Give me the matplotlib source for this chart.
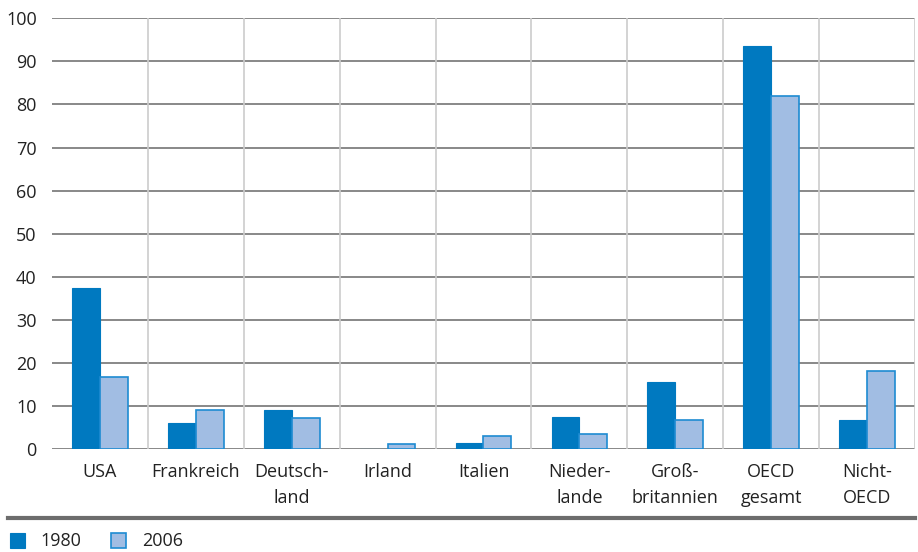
import numpy as np
import matplotlib.pyplot as plt
from matplotlib.patches import Rectangle
from matplotlib.lines import Line2D

plt.rcParams['font.family'] = ['Open Sans', 'DejaVu Sans']

categories = ['USA', 'Frankreich', 'Deutsch-\nland', 'Irland', 'Italien',
              'Nieder-\nlande', 'Groß-\nbritannien', 'OECD\ngesamt', 'Nicht-\nOECD']
v1980 = [37.4, 6.2, 9.2, 0.0, 1.5, 7.6, 15.5, 93.6, 6.7]
v2006 = [16.8, 9.2, 7.2, 1.2, 3.2, 3.6, 6.7, 81.9, 18.2]
series_labels = ['1980', '2006']
yticks = [0, 10, 20, 30, 40, 50, 60, 70, 80, 90, 100]

c1980 = '#0079C0'
c2006 = '#A1BDE3'
edge2006 = '#1E8BD2'

fig = plt.figure(figsize=(9.18, 5.52), dpi=100)
ax = fig.add_axes([52 / 918, 1 - 449.3 / 552, (915 - 52) / 918, (449.3 - 18.3) / 552])

x = np.arange(len(categories))
w = 0.29
ax.bar(x - w / 2, v1980, w, color=c1980, edgecolor=c1980, linewidth=0.8, zorder=3)
ax.bar(x + w / 2, v2006, w, color=c2006, edgecolor=edge2006, linewidth=1.2, zorder=3)

ax.set_xlim(-0.5, len(categories) - 0.5)
ax.set_ylim(0, 100)
ax.set_yticks(yticks)
ax.set_xticks(x)
ax.set_xticklabels(categories, fontsize=13, color='#222222', linespacing=1.55)
ax.tick_params(axis='y', labelsize=13, colors='#222222', length=0, pad=11)
ax.tick_params(axis='x', length=0, pad=10)

for y in yticks:
    ax.axhline(y, color='#7f7f7f', linewidth=1.3, zorder=1)
for xb in np.arange(0.5, len(categories), 1.0):
    ax.axvline(xb, color='#cccccc', linewidth=1.2, zorder=1)

for s in ax.spines.values():
    s.set_visible(False)

# bottom rule and legend
fig.add_artist(Line2D([8 / 918, 915 / 918], [1 - 518 / 552, 1 - 518 / 552],
                      color='#6d6d6d', linewidth=3))
leg_y = 1 - 548 / 552
fig.add_artist(Rectangle((10 / 918, leg_y), 15 / 918, 15 / 552,
                         facecolor=c1980, edgecolor=c1980, lw=0.8))
fig.text(40 / 918, 1 - 541 / 552, series_labels[0], fontsize=13, va='center', color='#222222')
fig.add_artist(Rectangle((111 / 918, leg_y), 15 / 918, 15 / 552,
                         facecolor=c2006, edgecolor=edge2006, lw=1.2))
fig.text(142 / 918, 1 - 541 / 552, series_labels[1], fontsize=13, va='center', color='#222222')

fig.savefig('out.png', dpi=100)
